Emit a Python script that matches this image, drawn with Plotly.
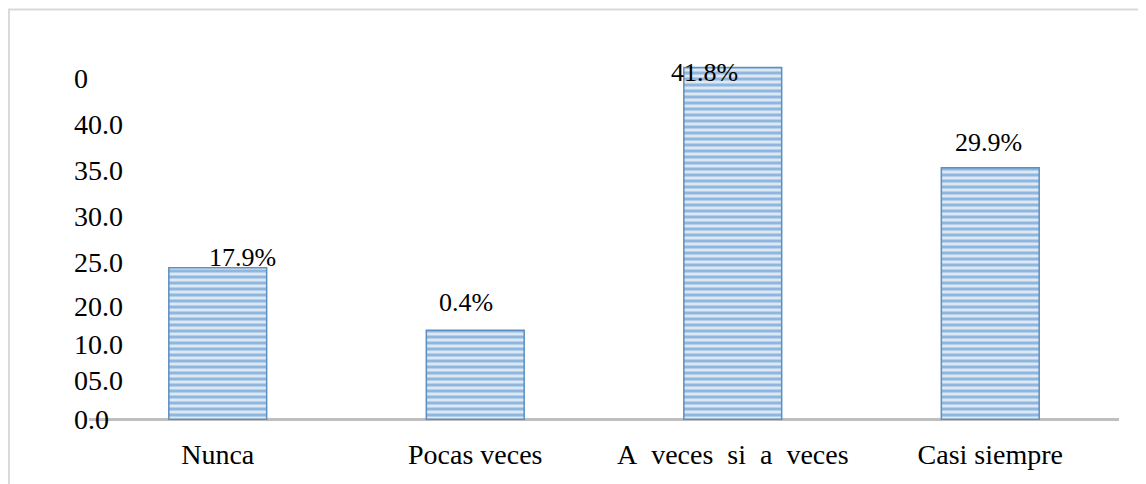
import plotly.graph_objects as go

# Categories and bar heights (in the chart's own axis units)
categories = ["Nunca", "Pocas veces", "A\u00a0\u00a0veces\u00a0\u00a0si\u00a0\u00a0a\u00a0\u00a0veces", "Casi siempre"]
bar_values = [16.5, 9.7, 38.3, 27.4]
bar_labels = ["17.9%", "0.4%", "41.8%", "29.9%"]

# The y axis tick labels of the original are irregularly spaced
tick_values = [0, 4.2, 8.2, 12.3, 17.1, 22.1, 27.1, 32.1, 37.2]
tick_labels = ["0.0", "05.0", "10.0", "20.0", "25.0", "30.0", "35.0", "40.0", "0"]

FONT = "Times New Roman, Liberation Serif, serif"

# label offsets relative to the bar tops (pixels)
label_dx = [25, -9, -28, -2]
label_dy = [10, 28, -5, 25]

fig = go.Figure()

fig.add_trace(go.Bar(
    x=categories,
    y=bar_values,
    width=0.38,
    marker=dict(
        color="#dce8f4",
        line=dict(color="#5d8fc0", width=1.5),
        pattern=dict(shape="-", fgcolor="#3f84c8", bgcolor="#dce8f4",
                     size=6, solidity=0.5, fillmode="overlay"),
    ),
    hoverinfo="skip",
    showlegend=False,
))

# --- data labels above bars ---
for cat, val, lab, dx, dy in zip(categories, bar_values, bar_labels, label_dx, label_dy):
    fig.add_annotation(
        x=cat, y=val, text=lab, showarrow=False,
        xanchor="center", yanchor="middle",
        xshift=dx, yshift=dy,
        font=dict(family=FONT, size=26, color="#000000"),
    )

# --- outer frame ---
fig.add_shape(
    type="rect", xref="paper", yref="paper",
    x0=-0.0777, x1=1.04, y0=-0.3, y1=1.1116,
    line=dict(color="#d9d9d9", width=2),
    fillcolor="rgba(0,0,0,0)",
)

fig.update_layout(
    width=1138,
    height=476,
    margin=dict(l=81, r=27, t=44, b=51),
    paper_bgcolor="white",
    plot_bgcolor="white",
    font=dict(family=FONT, size=28, color="#000000"),
    bargap=0.62,
    xaxis=dict(
        range=[-0.5, 3.5],
        showline=False,
        showgrid=False,
        ticks="",
        ticklabelstandoff=2,
        tickfont=dict(family=FONT, size=28, color="#000000"),
    ),
    yaxis=dict(
        range=[-1.5, 40],
        tickvals=tick_values,
        ticktext=tick_labels,
        ticklabelposition="inside",
        ticklabelstandoff=-18,
        ticklabeloverflow="allow",
        showgrid=False,
        zeroline=True,
        zerolinecolor="#bfbfbf",
        zerolinewidth=3,
        showline=False,
        ticks="",
        tickfont=dict(family=FONT, size=28, color="#000000"),
    ),
)

fig.write_html("out.html")
